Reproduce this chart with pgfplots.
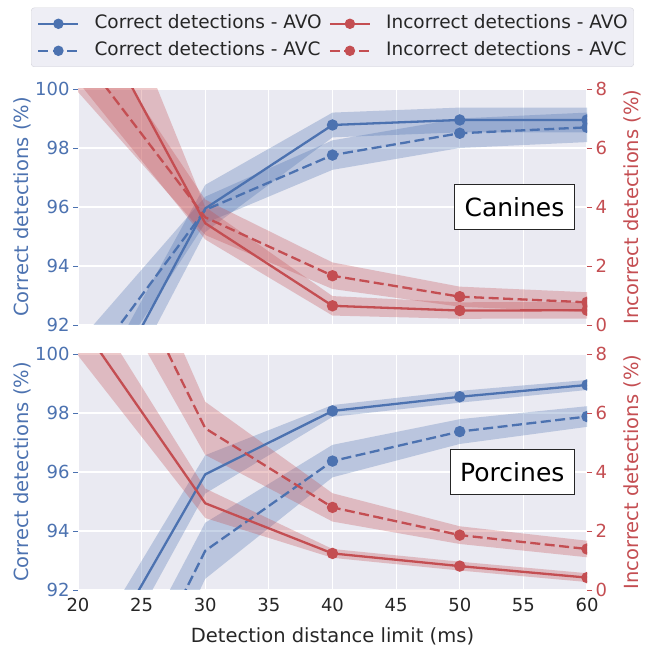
\documentclass[border=0pt]{standalone}
\usepackage{pgfplots}
\usepackage{pgfplotstable}
\pgfplotsset{compat=1.18}
\usepgfplotslibrary{fillbetween}
\usepackage{fontspec}
\setmainfont{DejaVu Sans}
\definecolor{sbblue}{HTML}{4C72B0}
\definecolor{sbred}{HTML}{C44E52}
\definecolor{sbbg}{HTML}{EAEAF2}
\definecolor{sbtext}{HTML}{262626}
\definecolor{legbg}{HTML}{EEEEF5}
\definecolor{legedge}{HTML}{D2D2DA}

% Canines
\pgfplotstableread{
x  m      lo     hi
20 87.90  86.90  88.90
30 95.95  95.15  96.75
40 98.78  98.36  99.20
50 98.95  98.53  99.37
60 98.95  98.53  99.37
}\CanCorAVO
\pgfplotstableread{
x  m      lo     hi
20 90.10  88.80  91.40
30 95.90  95.45  96.35
40 97.76  97.26  98.26
50 98.50  98.00  99.00
60 98.70  98.20  99.20
}\CanCorAVC
\pgfplotstableread{
x  m      lo     hi
20 11.45  8.25   14.65
30 3.45   2.90   4.00
40 0.65   0.32   0.98
50 0.49   0.21   0.77
60 0.50   0.22   0.78
}\CanIncAVO
\pgfplotstableread{
x  m      lo     hi
20 9.30   7.90   10.70
30 3.65   3.05   4.25
40 1.67   1.22   2.12
50 0.96   0.62   1.30
60 0.77   0.43   1.11
}\CanIncAVC
% Porcines
\pgfplotstableread{
x  m      lo     hi
20 88.40  87.40  89.40
30 95.92  95.27  96.57
40 98.07  97.87  98.27
50 98.55  98.35  98.75
60 98.95  98.78  99.12
}\PorCorAVO
\pgfplotstableread{
x  m      lo     hi
20 84.70  83.30  86.10
30 93.33  92.38  94.28
40 96.37  95.82  96.92
50 97.37  96.95  97.79
60 97.88  97.53  98.23
}\PorCorAVC
\pgfplotstableread{
x  m      lo     hi
20 9.15   7.95   10.35
30 2.94   2.44   3.44
40 1.24   1.09   1.39
50 0.81   0.66   0.96
60 0.42   0.27   0.57
}\PorIncAVO
\pgfplotstableread{
x  m      lo     hi
20 14.20  12.20  16.20
30 5.48   4.58   6.38
40 2.80   2.32   3.28
50 1.86   1.56   2.16
60 1.39   1.11   1.67
}\PorIncAVC

\newcommand{\band}[3]{%
  \addplot[draw=none, forget plot, name path=#2u] table[x=x,y=hi]{#1};
  \addplot[draw=none, forget plot, name path=#2l] table[x=x,y=lo]{#1};
  \addplot[fill=#3, fill opacity=0.3, draw=none, forget plot] fill between[of=#2u and #2l];
}
\newcommand{\mline}[3]{%
  \addplot[#2, line width=2.3pt, #3, mark=*, mark size=4.5pt, mark options={solid}, mark indices={2,3,4,5}, forget plot] table[x=x,y=m]{#1};
}
\tikzset{dsh/.style={dash pattern=on 10pt off 4.5pt}}

\newcommand{\tickfont}{\fontsize{18}{20}\selectfont}
\newcommand{\labfont}{\fontsize{19.5}{22}\selectfont}

\pgfplotsset{
  common/.style={
    anchor=south west, scale only axis, width=509pt, height=236pt,
    xmin=20, xmax=60, clip marker paths=true,
    /pgf/number format/assume math mode=true,
    tick align=outside, major tick length=5pt,
  },
  leftax/.style={
    ymin=92, ymax=100, ytick={92,94,96,98,100},
    xtick={20,25,...,60},
    axis background/.style={fill=sbbg},
    grid=major, major grid style={white, line width=1.2pt},
    axis x line*=bottom, axis y line*=left,
    axis line style={draw=none},
    xtick style={draw=none}, ytick style={sbblue, line width=0.9pt},
    yticklabel style={text=sbblue, font=\tickfont},
    xticklabel style={text=sbtext, font=\tickfont},
    ylabel={Correct detections (\%)},
    every axis y label/.style={at={(axis description cs:-0.110,0.5)}, rotate=90, anchor=center, text=sbblue, font=\labfont},
  },
  rightax/.style={
    ymin=0, ymax=8, ytick={0,2,4,6,8},
    axis y line*=right, axis x line=none,
    axis line style={draw=none},
    ytick style={sbred, line width=0.9pt},
    yticklabel style={text=sbred, font=\tickfont},
    ylabel={Incorrect detections (\%)},
    every axis y label/.style={at={(axis description cs:1.090,0.5)}, rotate=90, anchor=center, text=sbred, font=\labfont},
  },
}

\begin{document}
\begin{tikzpicture}
% ---------- top panel: Canines ----------
\begin{axis}[common, leftax, at={(78pt,325pt)}, xticklabels={}]
  \band{\CanCorAVO}{cao}{sbblue}
  \band{\CanCorAVC}{cac}{sbblue}
  \mline{\CanCorAVO}{sbblue}{solid}
  \mline{\CanCorAVC}{sbblue}{dsh}
\end{axis}
\begin{axis}[common, rightax, at={(78pt,325pt)},
  legend columns=2, legend cell align=left,
  legend style={at={(0.5,1)}, anchor=south, yshift=22pt, draw=legedge, fill=legbg,
    rounded corners=3pt, text=sbtext, font=\fontsize{18.5}{22}\selectfont,
    inner xsep=6pt, inner ysep=7pt, row sep=9pt,
    nodes={inner sep=0pt, text height=14pt, text depth=4pt},
    /tikz/every odd column/.append style={column sep=15pt},
    /tikz/every even column/.append style={column sep=7pt}},
  legend image code/.code={\draw[mark repeat=2,mark phase=2,#1] plot coordinates {(0pt,0pt) (20pt,0pt) (40pt,0pt)};},
]
  \band{\CanIncAVO}{cio}{sbred}
  \band{\CanIncAVC}{cic}{sbred}
  \mline{\CanIncAVO}{sbred}{solid}
  \mline{\CanIncAVC}{sbred}{dsh}
  \addlegendimage{sbblue, line width=2.3pt, solid, mark=*, mark size=4pt, mark options={solid}}
  \addlegendentry{Correct detections - AVO}
  \addlegendimage{sbred, line width=2.3pt, solid, mark=*, mark size=4pt, mark options={solid}}
  \addlegendentry{Incorrect detections - AVO}
  \addlegendimage{sbblue, line width=2.3pt, dsh, mark=*, mark size=4pt, mark options={solid}}
  \addlegendentry{Correct detections - AVC}
  \addlegendimage{sbred, line width=2.3pt, dsh, mark=*, mark size=4pt, mark options={solid}}
  \addlegendentry{Incorrect detections - AVC}
  \node[draw=sbtext, line width=0.8pt, fill=white, anchor=east, inner xsep=10pt, minimum height=45pt, font=\fontsize{25}{30}\selectfont, text=black] at (rel axis cs:0.976,0.5) {Canines};
\end{axis}
% ---------- bottom panel: Porcines ----------
\begin{axis}[common, leftax, at={(78pt,60pt)},
  xlabel={Detection distance limit (ms)},
  every axis x label/.style={at={(axis description cs:0.5,-0.195)}, anchor=center, text=sbtext, font=\labfont}]
  \band{\PorCorAVO}{pao}{sbblue}
  \band{\PorCorAVC}{pac}{sbblue}
  \mline{\PorCorAVO}{sbblue}{solid}
  \mline{\PorCorAVC}{sbblue}{dsh}
\end{axis}
\begin{axis}[common, rightax, at={(78pt,60pt)}]
  \band{\PorIncAVO}{pio}{sbred}
  \band{\PorIncAVC}{pic}{sbred}
  \mline{\PorIncAVO}{sbred}{solid}
  \mline{\PorIncAVC}{sbred}{dsh}
  \node[draw=sbtext, line width=0.8pt, fill=white, anchor=east, inner xsep=10pt, minimum height=45pt, font=\fontsize{25}{30}\selectfont, text=black] at (rel axis cs:0.976,0.5) {Porcines};
\end{axis}
\pgfresetboundingbox
\useasboundingbox (0,0) rectangle (646pt,650pt);
\end{tikzpicture}
\end{document}
